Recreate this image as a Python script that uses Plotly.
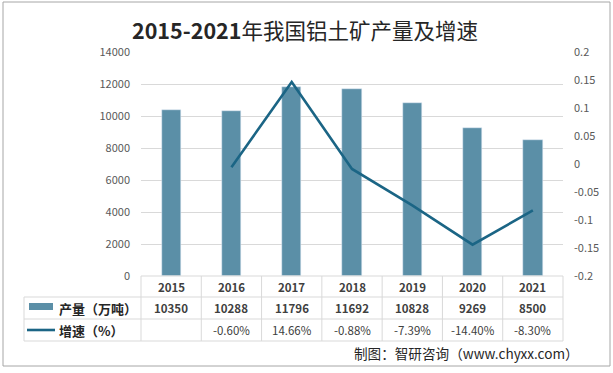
import plotly.graph_objects as go

years = ["2015", "2016", "2017", "2018", "2019", "2020", "2021"]
production = [10350, 10288, 11796, 11692, 10828, 9269, 8500]
growth = [None, -0.0060, 0.1466, -0.0088, -0.0739, -0.1440, -0.0830]
growth_labels = ["", "-0.60%", "14.66%", "-0.88%", "-7.39%", "-14.40%", "-8.30%"]
left_ticks = [0, 2000, 4000, 6000, 8000, 10000, 12000, 14000]
right_ticks = [-0.2, -0.15, -0.1, -0.05, 0, 0.05, 0.1, 0.15, 0.2]
right_tick_text = ["-0.2", "-0.15", "-0.1", "-0.05", "0", "0.05", "0.1", "0.15", "0.2"]
title_years = "2015-2021"
title_rest = "年我国铝土矿产量及增速"
series_names = ["产量（万吨）", "增速（%）"]
source_text = "制图：智研咨询（www.chyxx.com）"

W, H = 613, 373
ML, MR, MT, MB = 141, 50, 52, 97
PW = W - ML - MR
PH = H - MT - MB

def px(x):
    return (x - ML) / PW

def py(y):
    return (H - MB - y) / PH

BAR = "#5B8FA7"
LINE = "#1B6585"
GRID = "#D9D9D9"
FONT = "Noto Sans CJK SC"

fig = go.Figure()
fig.add_trace(go.Bar(x=years, y=production, marker_color=BAR, width=0.32,
                     name=series_names[0], showlegend=False))
fig.add_trace(go.Scatter(x=years, y=growth, mode="lines", yaxis="y2",
                         line=dict(color=LINE, width=2.6), name=series_names[1],
                         showlegend=False, connectgaps=False))

shapes = []
ann = []

n = len(years)
for yy, x0 in [(297, 24), (319, 24), (341, 24)]:
    shapes.append(dict(type="line", xref="paper", yref="paper", x0=px(x0), x1=1,
                       y0=py(yy), y1=py(yy), line=dict(color=GRID, width=1)))
shapes.append(dict(type="line", xref="paper", yref="paper", x0=0, x1=1,
                   y0=0, y1=0, line=dict(color=GRID, width=1)))
for i in range(n + 1):
    xv = px(ML + i * PW / n)
    shapes.append(dict(type="line", xref="paper", yref="paper", x0=xv, x1=xv,
                       y0=py(276), y1=py(341), line=dict(color=GRID, width=1)))
shapes.append(dict(type="line", xref="paper", yref="paper", x0=px(24), x1=px(24),
                   y0=py(297), y1=py(341), line=dict(color=GRID, width=1)))
shapes.append(dict(type="rect", xref="paper", yref="paper", x0=px(3), x1=px(610),
                   y0=py(366), y1=py(2), line=dict(color="#A6A6A6", width=1)))
shapes.append(dict(type="rect", xref="paper", yref="paper", x0=px(29), x1=px(53),
                   y0=py(310), y1=py(303), fillcolor=BAR, line=dict(width=0)))
shapes.append(dict(type="line", xref="paper", yref="paper", x0=px(27), x1=px(55),
                   y0=py(330), y1=py(330), line=dict(color=LINE, width=2.6)))

def label(xp, yp, text, size, color, xanchor="center"):
    ann.append(dict(x=xp, y=yp, xref="paper", yref="paper", xanchor=xanchor,
                    yanchor="middle", text=text, showarrow=False,
                    font=dict(size=size, color=color, family=FONT)))

for i, yr in enumerate(years):
    xc = px(ML + (i + 0.5) * PW / n)
    label(xc, py(286.5), "<b>%s</b>" % yr, 11.5, "#404040")
    label(xc, py(308), "<b>%d</b>" % production[i], 11.5, "#404040")
    if growth_labels[i]:
        label(xc, py(330), growth_labels[i], 11.5, "#404040")

label(px(57), py(308), "<b>%s</b>" % series_names[0], 13, "#262626", "left")
label(px(57), py(330), "<b>%s</b>" % series_names[1], 13, "#262626", "left")
label(px(581), py(353), source_text, 13.6, "#262626", "right")
label(px(305), py(29), "<b>%s</b>%s" % (title_years, title_rest), 21.5, "#262626")

fig.update_layout(
    width=W, height=H,
    margin=dict(l=ML, r=MR, t=MT, b=MB, pad=0),
    paper_bgcolor="white", plot_bgcolor="white",
    shapes=shapes, annotations=ann,
    bargap=0,
    xaxis=dict(type="category", range=[-0.5, n - 0.5], showticklabels=False,
               showgrid=False, zeroline=False, showline=False, ticks=""),
    yaxis=dict(range=[0, 14000], tickvals=left_ticks,
               ticktext=[str(v) for v in left_ticks], showgrid=True, gridcolor=GRID,
               gridwidth=1, zeroline=False, showline=False, ticks="",
               tickfont=dict(size=11, color="#595959", family=FONT),
               ticklabelstandoff=10),
    yaxis2=dict(range=[-0.2, 0.2], overlaying="y", side="right", tickvals=right_ticks,
                ticktext=right_tick_text, showgrid=False, zeroline=False, showline=False,
                ticks="", tickfont=dict(size=11, color="#595959", family=FONT),
                ticklabelstandoff=10),
    showlegend=False,
)

fig.write_html("out.html", config={"displayModeBar": False},
               post_script="document.body.style.margin='0';document.body.style.overflow='hidden';")
